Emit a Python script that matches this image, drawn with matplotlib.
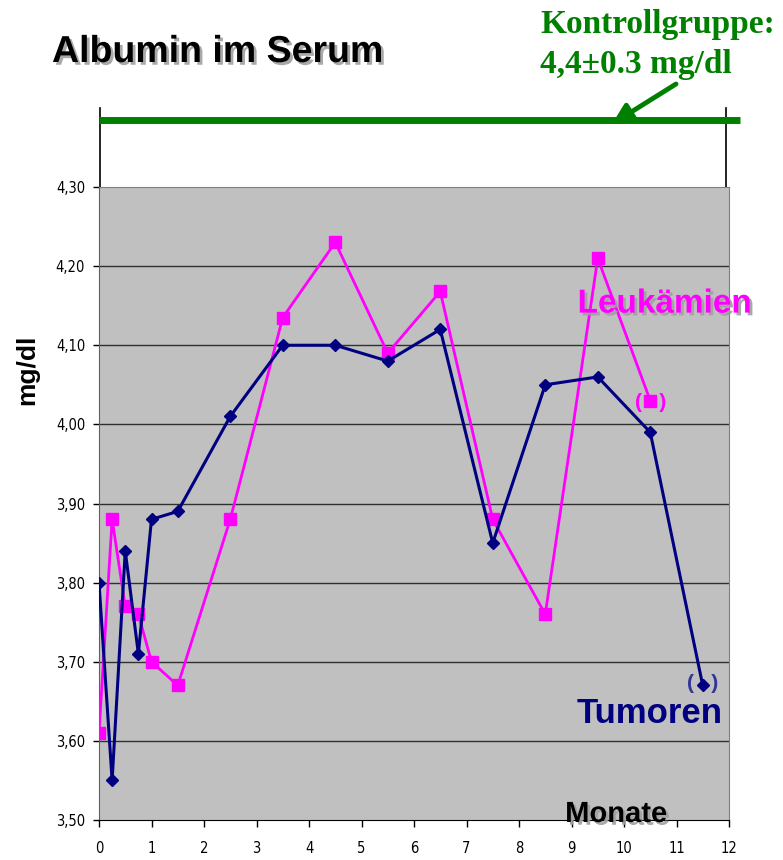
import matplotlib
matplotlib.use("Agg")
import matplotlib.pyplot as plt
import matplotlib.patheffects as pe
from matplotlib.ticker import FuncFormatter

# ---- data ----
months_tum = [0, 0.25, 0.5, 0.75, 1, 1.5, 2.5, 3.5, 4.5, 5.5, 6.5, 7.5, 8.5, 9.5, 10.5, 11.5]
tumoren = [3.80, 3.55, 3.84, 3.71, 3.88, 3.89, 4.01, 4.10, 4.10, 4.08, 4.12, 3.85, 4.05, 4.06, 3.99, 3.67]
months_leu = [0, 0.25, 0.5, 0.75, 1, 1.5, 2.5, 3.5, 4.5, 5.5, 6.5, 7.5, 8.5, 9.5, 10.5]
leukaemien = [3.61, 3.88, 3.77, 3.76, 3.70, 3.67, 3.88, 4.135, 4.23, 4.09, 4.168, 3.88, 3.76, 4.21, 4.03]
kontroll = 4.385
yticks = [3.50, 3.60, 3.70, 3.80, 3.90, 4.00, 4.10, 4.20, 4.30]
xticks = list(range(0, 13))

NAVY = "#000080"
MAG = "#FF00FF"
GREEN = "#008000"

fig = plt.figure(figsize=(7.83, 8.6), dpi=100)
ax = fig.add_axes([99 / 783, 40 / 860, 630 / 783, 633 / 860])
ax.set_facecolor("#C0C0C0")
ax.set_xlim(0, 12)
ax.set_ylim(3.50, 4.30)

ax.set_yticks(yticks)
ax.set_xticks(xticks)
ax.yaxis.set_major_formatter(FuncFormatter(lambda v, p: f"{v:.2f}".replace(".", ",")))
for lab in ax.get_yticklabels() + ax.get_xticklabels():
    lab.set_family("DejaVu Sans")
    lab.set_stretch("condensed")
    lab.set_fontsize(10.5)
ax.tick_params(axis="y", direction="out", length=4, width=1, pad=6)
ax.tick_params(axis="x", direction="out", length=5, width=1, pad=10)

for y in yticks[1:-1]:
    ax.axhline(y, color="#303030", lw=1.0, zorder=1)
for s in ["top", "right"]:
    ax.spines[s].set_color("#808080")
ax.spines["left"].set_color("#606060")
ax.spines["bottom"].set_color("black")

ax.plot(months_leu, leukaemien, color=MAG, lw=2, marker="s", ms=8, mec=MAG, mfc=MAG, zorder=3)
ax.plot(months_tum, tumoren, color=NAVY, lw=2.2, marker="D", ms=6.5, mec=NAVY, mfc=NAVY, zorder=4)

# control group line and brackets above the plot area
ax.plot([0, 12.21], [kontroll, kontroll], color=GREEN, lw=5, clip_on=False, solid_capstyle="butt", zorder=5)
ax.plot([0.02, 0.02], [4.30, 4.40], color="black", lw=1.2, clip_on=False)
ax.plot([11.95, 11.95], [4.30, 4.40], color="black", lw=1.2, clip_on=False)

shadow = [pe.withSimplePatchShadow(offset=(2, -2), shadow_rgbFace="#A0A0A0", alpha=0.9)]

fig.text(52 / 783, 1 - 52 / 860, "Albumin im Serum", fontsize=27, fontweight="bold",
         family="Liberation Sans", va="center", ha="left", color="black", path_effects=shadow)
fig.text(540 / 783, 1 - 24 / 860, "Kontrollgruppe:", fontsize=24, fontweight="bold",
         family="Liberation Serif", va="center", ha="left", color=GREEN)
fig.text(540 / 783, 1 - 64 / 860, "4,4±0.3 mg/dl", fontsize=24, fontweight="bold",
         family="Liberation Serif", va="center", ha="left", color=GREEN)
fig.patches.append(matplotlib.patches.FancyArrowPatch(
    (676 / 783, 1 - 84 / 860), (612 / 783, 1 - 124 / 860), transform=fig.transFigure,
    arrowstyle="-|>,head_length=12,head_width=6", color=GREEN, lw=3.5, mutation_scale=1,
    shrinkA=0, shrinkB=0))

ax.text(10.78, 4.152, "Leukämien", fontsize=24, fontweight="bold", family="Liberation Sans",
        color=MAG, ha="center", va="center", path_effects=shadow)
ax.text(10.5, 4.028, "(   )", fontsize=15, fontweight="bold", family="Liberation Sans",
        color=MAG, ha="center", va="center")
ax.text(11.5, 3.672, "(   )", fontsize=15, fontweight="bold", family="Liberation Sans",
        color="#333399", ha="center", va="center")
ax.text(10.49, 3.634, "Tumoren", fontsize=25, fontweight="bold", family="Liberation Sans",
        color=NAVY, ha="center", va="center")
ax.text(9.85, 3.4975, "Monate", fontsize=21, fontweight="bold", family="Liberation Sans",
        color="black", ha="center", va="baseline", path_effects=shadow, zorder=10, clip_on=False)
fig.text(27 / 783, 1 - 370 / 860, "mg/dl", fontsize=19, fontweight="bold", family="Liberation Sans",
         rotation=90, ha="center", va="center")

fig.savefig("out.png", dpi=100)
